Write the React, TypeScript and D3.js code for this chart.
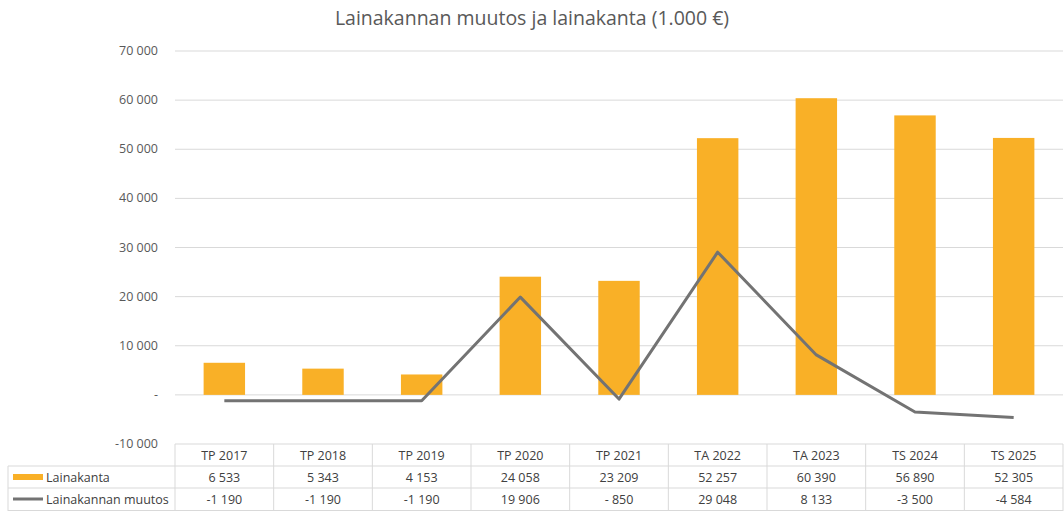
import React from 'react';
import * as d3 from 'd3';

const categories = ['TP 2017', 'TP 2018', 'TP 2019', 'TP 2020', 'TP 2021', 'TA 2022', 'TA 2023', 'TS 2024', 'TS 2025'];
const lainakanta = [6533, 5343, 4153, 24058, 23209, 52257, 60390, 56890, 52305];
const muutos = [-1190, -1190, -1190, 19906, -850, 29048, 8133, -3500, -4584];
const lainakantaLabels = ['6 533', '5 343', '4 153', '24 058', '23 209', '52 257', '60 390', '56 890', '52 305'];
const muutosLabels = ['-1 190', '-1 190', '-1 190', '19 906', '- 850', '29 048', '8 133', '-3 500', '-4 584'];
const yTicks = [-10000, 0, 10000, 20000, 30000, 40000, 50000, 60000, 70000];
const yTickLabels = ['-10 000', '-', '10 000', '20 000', '30 000', '40 000', '50 000', '60 000', '70 000'];

const W = 1064;
const H = 511;
const FONT = "'Open Sans', 'Liberation Sans', sans-serif";
const BAR = '#f9b027';
const LINE = '#737373';
const GRID = '#d9d9d9';

export default function App() {
  const left = 175;
  const right = 1063;
  const tableLeft = 8;
  const x = d3.scaleBand<string>().domain(categories).range([left, right]).padding(0);
  const y = d3.scaleLinear().domain([-10000, 70000]).range([444, 51]);
  const bw = x.bandwidth() * 0.42;
  const cx = (c: string) => (x(c) ?? 0) + x.bandwidth() / 2;

  const line = d3.line<number>()
    .x((_, i) => cx(categories[i]))
    .y(d => y(d));

  const rowTop = [444, 466, 488];

  return (
    <svg width={W} height={H} style={{ position: 'absolute', left: 0, top: 0, background: '#fff' }} fontFamily={FONT}>
      <text x={532} y={25} textAnchor="middle" fontSize={19.5} fill="#595959">Lainakannan muutos ja lainakanta (1.000 €)</text>

      {/* gridlines + y labels */}
      {yTicks.map((t, i) => (
        <g key={t}>
          {t > -10000 && <line x1={left} x2={right} y1={y(t)} y2={y(t)} stroke={GRID} strokeWidth={1} />}
          <text x={158} y={y(t) + 4} textAnchor="end" fontSize={12.5} fill="#595959">{yTickLabels[i]}</text>
        </g>
      ))}

      {/* bars */}
      {categories.map((c, i) => (
        <rect key={c} x={cx(c) - bw / 2} width={bw} y={y(lainakanta[i])} height={y(0) - y(lainakanta[i])} fill={BAR} />
      ))}

      {/* line */}
      <path d={line(muutos) ?? ''} fill="none" stroke={LINE} strokeWidth={3} strokeLinejoin="round" />

      {/* data table */}
      <g stroke={GRID} strokeWidth={1} fill="none">
        <line x1={left} x2={right} y1={rowTop[0]} y2={rowTop[0]} />
        <line x1={tableLeft} x2={right} y1={rowTop[1]} y2={rowTop[1]} />
        <line x1={tableLeft} x2={right} y1={rowTop[2]} y2={rowTop[2]} />
        <line x1={tableLeft} x2={right} y1={H - 0.5} y2={H - 0.5} />
        <line x1={tableLeft} x2={tableLeft} y1={rowTop[1]} y2={H} />
        {categories.map(c => (
          <line key={c} x1={x(c) ?? 0} x2={x(c) ?? 0} y1={rowTop[0]} y2={H} />
        ))}
        <line x1={right} x2={right} y1={rowTop[0]} y2={H} />
      </g>
      {categories.map((c, i) => (
        <g key={c} fontSize={12.5} fill="#404040" textAnchor="middle">
          <text x={cx(c)} y={rowTop[0] + 16}>{c}</text>
          <text x={cx(c)} y={rowTop[1] + 16}>{lainakantaLabels[i]}</text>
          <text x={cx(c)} y={rowTop[2] + 16}>{muutosLabels[i]}</text>
        </g>
      ))}
      <rect x={13} y={rowTop[1] + 8} width={30} height={6} fill={BAR} />
      <text x={46} y={rowTop[1] + 16} fontSize={12.5} fill="#404040">Lainakanta</text>
      <line x1={13} x2={43} y1={rowTop[2] + 11} y2={rowTop[2] + 11} stroke={LINE} strokeWidth={3} />
      <text x={46} y={rowTop[2] + 16} fontSize={12.5} fill="#404040">Lainakannan muutos</text>
    </svg>
  );
}
